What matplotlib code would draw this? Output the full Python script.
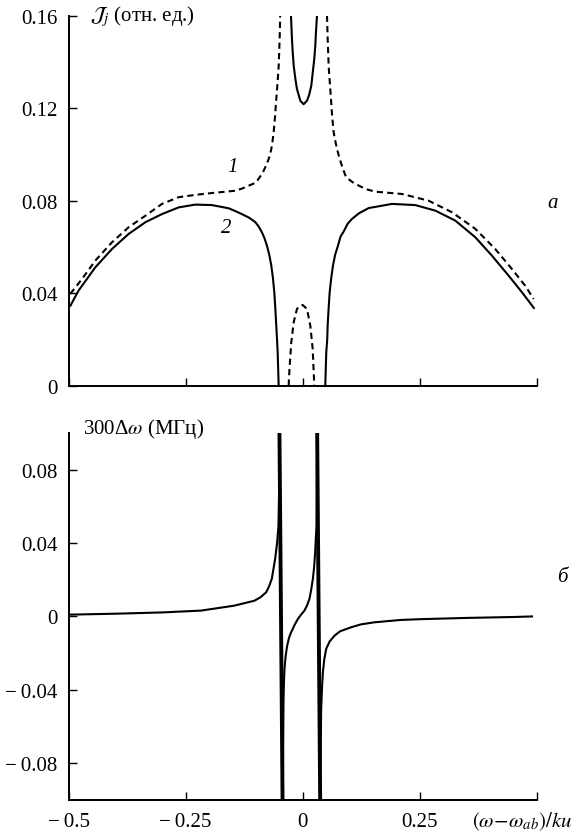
#!/usr/bin/env python3

from __future__ import annotations

import matplotlib

matplotlib.use("Agg")
import matplotlib.pyplot as plt

# --- panel (a): intensity, curve 1 (dashed) and curve 2 (solid) ---
c1_left_x = [-0.4966, -0.4716, -0.443, -0.4075, -0.372, -0.336, -0.3006, -0.265, -0.2295, -0.194,
             -0.144, -0.13, -0.115, -0.1, -0.0906, -0.0845, -0.08, -0.0765, -0.0727, -0.0687,
             -0.0656, -0.062, -0.059, -0.0564, -0.0537, -0.0513, -0.0492, -0.048]
c1_left_y = [0.0397, 0.0461, 0.0541, 0.062, 0.0685, 0.0735, 0.0786, 0.0815, 0.0825, 0.0833,
             0.0843, 0.0852, 0.0865, 0.0878, 0.0905, 0.0925, 0.0944, 0.096, 0.098, 0.1008,
             0.1038, 0.1096, 0.1165, 0.124, 0.131, 0.138, 0.15, 0.16]
c1_mid_x = [-0.030, -0.0278, -0.0243, -0.0192, -0.0122, -0.006, 0.0, 0.0092, 0.0163, 0.0214, 0.0248]
c1_mid_y = [0.0, 0.0086, 0.0188, 0.0274, 0.0332, 0.0345, 0.0349, 0.0332, 0.026, 0.0159, 0.0]
c1_right_x = [0.052, 0.0534, 0.0556, 0.058, 0.0605, 0.063, 0.0662, 0.0695, 0.0733, 0.0785, 0.084,
              0.092, 0.1, 0.11, 0.12, 0.135, 0.155, 0.212, 0.269, 0.319, 0.369, 0.4115, 0.447,
              0.4756, 0.4936]
c1_right_y = [0.16, 0.15, 0.138, 0.131, 0.124, 0.1165, 0.1096, 0.106, 0.1024, 0.0985, 0.095,
              0.0905, 0.089, 0.0875, 0.0865, 0.085, 0.0839, 0.0829, 0.080, 0.075, 0.0678, 0.0591,
              0.0505, 0.0432, 0.0375]

c2_left_x = [-0.4963, -0.479, -0.443, -0.4075, -0.372, -0.336, -0.3006, -0.265, -0.2295, -0.194,
             -0.158, -0.145, -0.13, -0.115, -0.101, -0.094, -0.087, -0.0815, -0.0763, -0.0715,
             -0.067, -0.0635, -0.0606, -0.0585, -0.0564, -0.0548, -0.0534, -0.0513]
c2_left_y = [0.0346, 0.0411, 0.0512, 0.0591, 0.0656, 0.0707, 0.0742, 0.0771, 0.0783, 0.0781,
             0.0767, 0.0756, 0.0742, 0.0727, 0.0707, 0.0688, 0.0663, 0.0637, 0.0605, 0.0567,
             0.0519, 0.0465, 0.0404, 0.0335, 0.026, 0.020, 0.0144, 0.0]
c2_mid_x = [-0.025, -0.0229, -0.0215, -0.0192, -0.0155, -0.0122, -0.005, 0.002, 0.0092, 0.014,
            0.0184, 0.0248, 0.027, 0.0284, 0.0306]
c2_mid_y = [0.16, 0.15, 0.145, 0.1384, 0.1325, 0.1283, 0.1232, 0.1217, 0.1232, 0.1258,
            0.1297, 0.1413, 0.147, 0.1528, 0.16]
c2_right_x = [0.0483, 0.0504, 0.0525, 0.0534, 0.0555, 0.0577, 0.061, 0.0647, 0.0695, 0.0754,
              0.081, 0.088, 0.096, 0.1053, 0.12, 0.141, 0.1908, 0.2406, 0.2833, 0.326, 0.3688,
              0.4045, 0.44, 0.4686, 0.494]
c2_right_y = [0.0, 0.0144, 0.020, 0.026, 0.0335, 0.0404, 0.0465, 0.0519, 0.0567, 0.0605,
              0.0645, 0.0668, 0.070, 0.0721, 0.0745, 0.0768, 0.0786, 0.0781, 0.0757, 0.0714,
              0.0642, 0.0562, 0.0476, 0.0404, 0.0336]

# --- panel (b): frequency shift ---
d_left_x = [-0.496, -0.4, -0.3, -0.217, -0.146, -0.103, -0.09, -0.078, -0.072, -0.066, -0.0588,
            -0.0545, -0.0517, -0.0502, -0.0496]
d_left_y = [0.001, 0.0015, 0.0022, 0.0032, 0.0059, 0.0086, 0.0105, 0.0132, 0.0163, 0.0205,
            0.0314, 0.0405, 0.0496, 0.0714, 0.1]
d_mid_x = [-0.0424, -0.041, -0.040, -0.0389, -0.0362, -0.0331, -0.029, -0.0246, -0.017, -0.0103,
           -0.004, 0.0038, 0.009, 0.0145, 0.018, 0.0218, 0.0245, 0.0267, 0.0295, 0.031]
d_mid_y = [-0.1, -0.0469, -0.036, -0.0287, -0.0213, -0.0159, -0.0115, -0.0086, -0.0045, -0.0014,
           0.0008, 0.0032, 0.0058, 0.0096, 0.0143, 0.0205, 0.027, 0.035, 0.0496, 0.1]
d_right_x = [0.0374, 0.0395, 0.0415, 0.0432, 0.046, 0.0502, 0.0575, 0.068, 0.08, 0.1036, 0.125,
             0.153, 0.21, 0.25, 0.35, 0.45, 0.49]
d_right_y = [-0.1, -0.0505, -0.038, -0.0305, -0.0237, -0.0177, -0.0137, -0.0105, -0.0081,
             -0.0059, -0.0043, -0.0032, -0.0019, -0.0015, -0.0008, -0.0003, 0.0]
# jumps across the two poles (top x, bottom x)
pole_top_x = [-0.0496, 0.031]
pole_bot_x = [-0.0430, 0.0374]

x_ticks = [-0.5, -0.25, 0, 0.25, 0.5]
x_tick_labels = ["\u2212\u20090.5", "\u2212\u20090.25", "0", "0.25", ""]
ya_ticks = [0, 0.04, 0.08, 0.12, 0.16]
ya_tick_labels = ["0", "0.04", "0.08", "0.12", "0.16"]
yb_ticks = [-0.08, -0.04, 0, 0.04, 0.08]
yb_tick_labels = ["\u2212\u20090.08", "\u2212\u20090.04", "0", "0.04", "0.08"]

FS = 15
LW = 1.5


def style_axes(ax) -> None:
    for side in ("top", "right"):
        ax.spines[side].set_visible(False)
    for side in ("left", "bottom"):
        ax.spines[side].set_linewidth(1.4)
    ax.tick_params(direction="in", length=6, width=1.0, labelsize=FS)
    ax.tick_params(axis="y", pad=8)
    ax.tick_params(axis="x", pad=9)
    ax.set_xlim(-0.5, 0.5)
    ax.set_xticks(x_ticks)


def main() -> None:
    plt.rcParams["font.family"] = ["Liberation Serif", "DejaVu Serif"]
    plt.rcParams["mathtext.fontset"] = "stix"

    fig = plt.figure(figsize=(5.86, 8.37), dpi=100)
    ax1 = fig.add_axes([0.1172, 0.538, 0.7986, 0.4421])
    ax2 = fig.add_axes([0.1172, 0.0434, 0.7986, 0.4378])

    # panel a
    style_axes(ax1)
    dash = (0, (3, 2))
    for xs, ys in [(c1_left_x, c1_left_y), (c1_mid_x, c1_mid_y), (c1_right_x, c1_right_y)]:
        ax1.plot(xs, ys, color="black", lw=LW, linestyle=dash)
    for xs, ys in [(c2_left_x, c2_left_y), (c2_mid_x, c2_mid_y), (c2_right_x, c2_right_y)]:
        ax1.plot(xs, ys, color="black", lw=LW)
    ax1.set_ylim(0, 0.16)
    ax1.set_yticks(ya_ticks)
    ax1.set_yticklabels(ya_tick_labels)
    ax1.set_xticklabels([])
    ax1.text(-0.151, 0.0946, "1", fontsize=FS, style="italic", ha="center", va="center")
    ax1.text(-0.164, 0.0686, "2", fontsize=FS, style="italic", ha="center", va="center")
    ax1.text(-0.455, 0.16, r"$\mathcal{J}_j$ (отн. ед.)", fontsize=FS, ha="left", va="center")

    # panel b
    style_axes(ax2)
    for xs, ys in [(d_left_x, d_left_y), (d_mid_x, d_mid_y), (d_right_x, d_right_y)]:
        ax2.plot(xs, ys, color="black", lw=LW)
    for xt, xb in zip(pole_top_x, pole_bot_x):
        ax2.plot([xt, xb], [0.1, -0.1], color="black", lw=2.8)
    ax2.set_ylim(-0.1, 0.1)
    ax2.set_yticks(yb_ticks)
    ax2.set_yticklabels(yb_tick_labels)
    ax2.set_xticklabels(x_tick_labels)
    ax2.text(-0.47, 0.103, "300\u0394$\\omega$ (МГц)", fontsize=FS, ha="left", va="center")

    fig.text(471.7 / 586, 1 - 821.7 / 837, r"$(\omega\!-\!\omega_{ab})/ku$", fontsize=FS,
             ha="left", va="center")
    fig.text(553 / 586, 1 - 204 / 837, "а", fontsize=FS, style="italic", ha="center", va="center")
    fig.text(562 / 586, 1 - 578 / 837, "б", fontsize=FS, style="italic", ha="center", va="center")

    fig.savefig("out.png", dpi=100)
    plt.close(fig)


if __name__ == "__main__":
    main()
